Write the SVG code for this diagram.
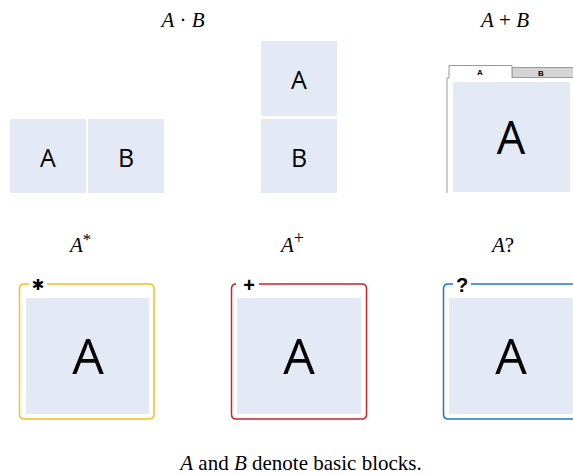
<svg xmlns="http://www.w3.org/2000/svg" width="573" height="475" viewBox="0 0 573 475">
<style>
.t{font-family:"Liberation Serif",serif;font-size:21px;fill:#000}
.i{font-style:italic}
.blk{fill:#e4eaf5}
.bl{font-family:"Open Sans","Liberation Sans",sans-serif;fill:#000;text-anchor:middle}
.s{font-size:25px}
.b{font-size:50px}
.tab{font-family:"Liberation Sans",sans-serif;font-size:8px;font-weight:bold;text-anchor:middle}
.gl{font-family:"Liberation Sans",sans-serif;font-weight:bold;font-size:20px;text-anchor:middle}
</style>
<rect width="573" height="475" fill="#fff"/>
<g id="title-seq">
<text class="t" x="183" y="27" text-anchor="middle"><tspan class="i">A</tspan> · <tspan class="i">B</tspan></text>
</g>
<g id="title-alt">
<text class="t" x="505" y="27" text-anchor="middle"><tspan class="i">A</tspan> + <tspan class="i">B</tspan></text>
</g>
<g id="seq-horizontal">
<rect class="blk" x="10" y="119" width="76" height="74"/>
<text class="bl s" x="48" y="167">A</text>
<rect class="blk" x="88" y="119" width="76" height="74"/>
<text class="bl s" x="126" y="167">B</text>
</g>
<g id="seq-vertical">
<rect class="blk" x="261" y="41" width="76" height="75"/>
<text class="bl s" x="299" y="89">A</text>
<rect class="blk" x="261" y="119" width="76" height="74"/>
<text class="bl s" x="299" y="167">B</text>
</g>
<g id="alt-tabs">
<path d="M447 193 V78 H449" fill="none" stroke="#999" stroke-width="1"/>
<rect x="512" y="67.5" width="62" height="10" fill="#d4d4d4" stroke="#999" stroke-width="1"/>
<path d="M449 78 V65.5 H512 V78" fill="#fff" stroke="#999" stroke-width="1"/>
<text class="tab" x="480" y="75">A</text>
<text class="tab" x="541" y="76">B</text>
<rect class="blk" x="453" y="82" width="117" height="110"/>
<text class="bl" x="511" y="154" font-size="45">A</text>
</g>
<g id="title-star">
<text class="t" x="70" y="252"><tspan class="i">A</tspan><tspan font-size="17" dy="-7">*</tspan></text>
</g>
<g id="title-plus">
<text class="t" x="281" y="252"><tspan class="i">A</tspan><tspan font-size="18" dy="-8">+</tspan></text>
</g>
<g id="title-opt">
<text class="t" x="492" y="252"><tspan class="i">A</tspan>?</text>
</g>
<g id="star">
<path d="M29 284 H24 Q19.5 284 19.5 289 V414 Q19.5 419 24 419 H149 Q154 419 154 414 V289 Q154 284 149 284 H47" fill="none" stroke="#f5c022" stroke-width="1.5"/>
<rect class="blk" x="26" y="298" width="123" height="116"/>
<text x="38" y="290" font-family="DejaVu Sans,sans-serif" font-size="15" text-anchor="middle" fill="#000">✱</text>
<text class="bl b" x="88" y="374">A</text>
</g>
<g id="plus">
<path d="M236 284 H236 Q231.5 284 231.5 289 V414 Q231.5 419 236 419 H362 Q366.5 419 366.5 414 V289 Q366.5 284 362 284 H259" fill="none" stroke="#c8262a" stroke-width="1.5"/>
<rect class="blk" x="237" y="298" width="124" height="116"/>
<text class="gl" x="249" y="292">+</text>
<text class="bl b" x="299" y="374">A</text>
</g>
<g id="opt">
<path d="M453 284 H448 Q443.5 284 443.5 289 V414 Q443.5 419 448 419 H580 M471 284 H580" fill="none" stroke="#1f78c8" stroke-width="1.5"/>
<rect class="blk" x="449" y="298" width="130" height="116"/>
<text class="gl" x="462" y="292">?</text>
<text class="bl b" x="511" y="374">A</text>
</g>
<g id="connectors"></g>
<g id="caption">
<text class="t" x="301" y="470" text-anchor="middle" font-size="19.5"><tspan class="i">A</tspan> and <tspan class="i">B</tspan> denote basic blocks.</text>
</g>
</svg>
